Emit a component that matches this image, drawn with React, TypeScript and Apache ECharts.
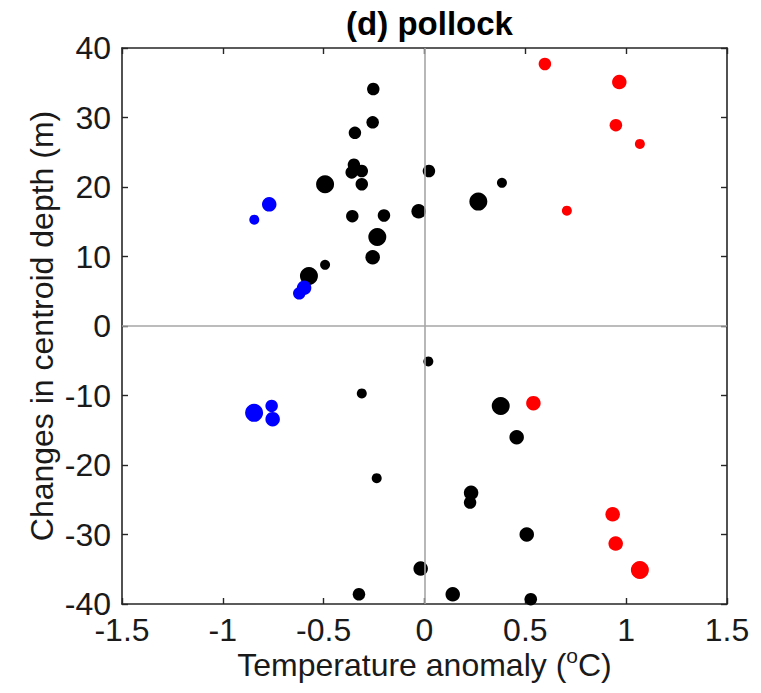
import React, { useEffect, useRef } from "react";
import * as echarts from "echarts";

// Temperature anomaly (°C), change in centroid depth (m), weight class (1-4)
const blackX = [-0.254, -0.257, -0.345, -0.35, -0.311, -0.361, -0.311, -0.493, -0.358, -0.201, -0.029, -0.234, -0.257, -0.493, -0.573, 0.022, 0.384, 0.267, -0.311, -0.237, -0.019, -0.325, 0.019, 0.378, 0.457, 0.231, 0.226, 0.507, 0.14, 0.527];
const blackY = [34.1, 29.3, 27.8, 23.2, 22.3, 22.1, 20.4, 20.4, 15.8, 15.9, 16.5, 12.8, 9.9, 8.8, 7.2, 22.3, 20.6, 17.9, -9.7, -21.9, -34.9, -38.6, -5.1, -11.5, -16.0, -24.0, -25.4, -30.0, -38.6, -39.3];
const blackW = [2, 2, 2, 2, 2, 2, 2, 4, 2, 2, 3, 4, 3, 1, 4, 2, 1, 4, 1, 1, 3, 2, 1, 4, 3, 3, 2, 3, 3, 2];

const blueX = [-0.77, -0.844, -0.597, -0.621, -0.845, -0.758, -0.753];
const blueY = [17.5, 15.3, 5.5, 4.7, -12.5, -11.5, -13.4];
const blueW = [3, 1, 3, 2, 4, 2, 3];

const redX = [0.597, 0.966, 0.949, 1.068, 0.706, 0.54, 0.933, 0.948, 1.068];
const redY = [37.7, 35.1, 28.9, 26.2, 16.6, -11.1, -27.1, -31.3, -35.1];
const redW = [2, 3, 2, 1, 1, 3, 3, 3, 4];

const xTicks = { min: -1.5, max: 1.5, interval: 0.5 };
const yTicks = { min: -40, max: 40, interval: 10 };

const titleText = "(d) pollock";
const xName = "Temperature anomaly (";
const yName = "Changes in centroid depth (m)";

const SIZE_BY_WEIGHT: Record<number, number> = { 1: 10, 2: 12.5, 3: 14.5, 4: 18 };

const FONT = "Liberation Sans, Arial, Helvetica, sans-serif";
const TEXT = "#1a1a1a";
const FRAME = "#262626";

function pts(xs: number[], ys: number[], ws: number[]) {
  return xs.map((x, i) => [x, ys[i], ws[i]]);
}

export default function App() {
  const ref = useRef<HTMLDivElement>(null);
  useEffect(() => {
    if (!ref.current) return;
    const chart = echarts.init(ref.current, undefined, { renderer: "svg" });
    const axisCommon = {
      type: "value" as const,
      axisLine: { show: true, onZero: false, lineStyle: { color: FRAME, width: 1.6 } },
      axisTick: { show: true, inside: true, length: 6, lineStyle: { color: FRAME, width: 1.4 } },
      splitLine: { show: false },
    };
    const labelCommon = { color: TEXT, fontFamily: FONT, fontSize: 32 };
    const sym = (v: number[]) => SIZE_BY_WEIGHT[v[2]];
    chart.setOption({
      animation: false,
      backgroundColor: "#ffffff",
      title: {
        text: titleText,
        left: 424.5,
        top: 2,
        textAlign: "center",
        textStyle: { fontFamily: FONT, fontWeight: "bold", fontSize: 33, color: "#000" },
      },
      grid: {
        left: 122,
        top: 48,
        right: 34,
        bottom: 89,
        containLabel: false,
        outerBoundsMode: "none",
      },
      xAxis: [
        {
          ...axisCommon,
          position: "bottom",
          ...xTicks,
          axisLabel: { ...labelCommon, margin: 11, lineHeight: 30 },
          name: "{main|" + xName + "}{sup|o}{main|C)}",
          nameLocation: "middle",
          nameGap: 41,
          nameMoveOverlap: false,
          nameTextStyle: {
            ...labelCommon,
            rich: {
              main: { fontFamily: FONT, fontSize: 32, color: TEXT, lineHeight: 40 },
              sup: { fontFamily: FONT, fontSize: 21, color: TEXT, verticalAlign: "top", lineHeight: 21 },
            },
          },
        },
        {
          ...axisCommon,
          position: "top",
          ...xTicks,
          axisLabel: { show: false },
        },
      ],
      yAxis: [
        {
          ...axisCommon,
          position: "left",
          ...yTicks,
          axisLabel: { ...labelCommon, margin: 11 },
          name: yName,
          nameLocation: "middle",
          nameGap: 64,
          nameMoveOverlap: false,
          nameTextStyle: { ...labelCommon },
        },
        {
          ...axisCommon,
          position: "right",
          ...yTicks,
          axisLabel: { show: false },
        },
      ],
      series: [
        {
          type: "scatter",
          data: [],
          z: 1,
          silent: true,
          markLine: {
            silent: true,
            symbol: "none",
            label: { show: false },
            lineStyle: { color: "#a6a6a6", width: 1.6, type: "solid" },
            data: [{ xAxis: 0 }, { yAxis: 0 }],
          },
        },
        {
          type: "scatter",
          data: pts(blackX, blackY, blackW),
          symbolSize: sym,
          itemStyle: { color: "#000000", opacity: 1 },
          z: 3,
        },
        {
          type: "scatter",
          data: pts(blueX, blueY, blueW),
          symbolSize: sym,
          itemStyle: { color: "#0000ff", opacity: 1 },
          z: 4,
        },
        {
          type: "scatter",
          data: pts(redX, redY, redW),
          symbolSize: sym,
          itemStyle: { color: "#ff0000", opacity: 1 },
          z: 4,
        },
      ],
    });
    return () => chart.dispose();
  }, []);
  return (
    <div
      ref={ref}
      style={{ position: "absolute", left: 0, top: 0, width: 761, height: 693, background: "#fff" }}
    />
  );
}
